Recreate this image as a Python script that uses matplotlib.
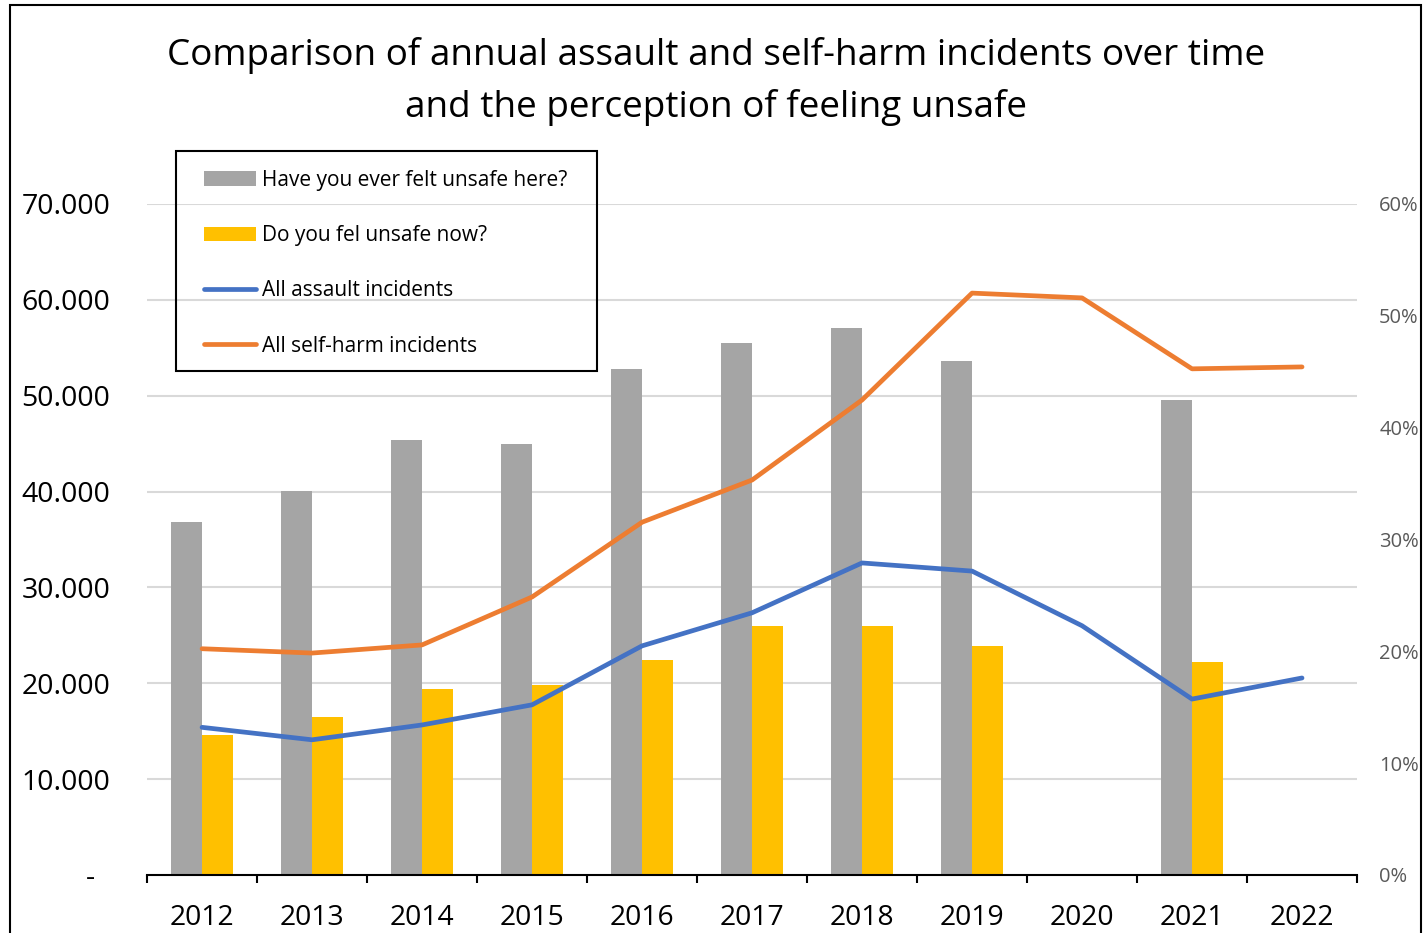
import numpy as np
import matplotlib

matplotlib.use("Agg")
import matplotlib.pyplot as plt
from matplotlib.patches import Rectangle
from matplotlib.ticker import FixedLocator, FuncFormatter, NullFormatter
from matplotlib.transforms import blended_transform_factory

plt.rcParams["font.family"] = ["Open Sans", "DejaVu Sans"]

years = ["2012", "2013", "2014", "2015", "2016", "2017",
         "2018", "2019", "2020", "2021", "2022"]
# survey answers, share of respondents (right axis); no survey in 2020 and 2022
felt_unsafe_ever = [0.316, 0.343, 0.389, 0.385, 0.452, 0.476,
                    0.489, 0.460, np.nan, 0.425, np.nan]
felt_unsafe_now = [0.125, 0.141, 0.166, 0.170, 0.192, 0.223,
                   0.223, 0.205, np.nan, 0.190, np.nan]
# incident counts (left axis)
assault = [15400, 14100, 15650, 17750, 23900, 27350,
           32550, 31700, 26000, 18350, 20550]
self_harm = [23600, 23150, 24000, 29000, 36800, 41200,
             49550, 60700, 60200, 52800, 53000]

count_ticks = [0, 10000, 20000, 30000, 40000, 50000, 60000, 70000]
share_ticks = [0, 0.1, 0.2, 0.3, 0.4, 0.5, 0.6]

GREY, GOLD, BLUE, ORANGE = "#A5A5A5", "#FFC000", "#4472C4", "#ED7D31"

fig = plt.figure(figsize=(14.25, 9.33), dpi=100)
ax_bar = fig.add_axes((0.1032, 0.0622, 0.8491, 0.7192))
ax_line = ax_bar.twinx()

x = np.arange(len(years))
w = 0.285
ax_bar.bar(x - w / 2, felt_unsafe_ever, w, color=GREY, zorder=2,
           label="Have you ever felt unsafe here?")
ax_bar.bar(x + w / 2, felt_unsafe_now, w, color=GOLD, zorder=2,
           label="Do you fel unsafe now?")
ax_line.plot(x, assault, color=BLUE, lw=3.4, solid_capstyle="round",
             label="All assault incidents")
ax_line.plot(x, self_harm, color=ORANGE, lw=3.4, solid_capstyle="round",
             label="All self-harm incidents")

ax_bar.set_xlim(-0.5, len(years) - 0.5)
ax_bar.set_ylim(0, 0.6)
ax_line.set_ylim(0, 70000)

# gridlines follow the count axis but sit behind the bars
grid_tf = blended_transform_factory(ax_bar.transAxes, ax_line.transData)
for v in count_ticks[1:]:
    ax_bar.plot([0, 1], [v, v], transform=grid_tf, color="#D9D9D9",
                lw=1.5, zorder=0)

# share axis on the right, count axis on the left
ax_bar.yaxis.tick_right()
ax_bar.set_yticks(share_ticks)
ax_bar.yaxis.set_major_formatter(FuncFormatter(lambda v, _: f"{v:.0%}"))
ax_bar.tick_params(axis="y", length=0, pad=16, labelsize=14.5,
                   labelcolor="#595959")

ax_line.yaxis.tick_left()
ax_line.set_yticks(count_ticks)
ax_line.yaxis.set_major_formatter(FuncFormatter(
    lambda v, _: "-  " if v == 0 else f"{v:,.0f}".replace(",", ".")))
ax_line.tick_params(axis="y", length=0, pad=26.5, labelsize=20.5)

# Excel-style category axis: ticks between categories, labels centred
ax_bar.xaxis.set_major_locator(FixedLocator(np.arange(len(years) + 1) - 0.5))
ax_bar.xaxis.set_major_formatter(NullFormatter())
ax_bar.xaxis.set_minor_locator(FixedLocator(x))
ax_bar.set_xticklabels(years, minor=True)
ax_bar.tick_params(axis="x", which="major", length=6, width=1.5,
                   direction="out")
ax_bar.tick_params(axis="x", which="minor", length=0, pad=21, labelsize=20.3)

for a in (ax_bar, ax_line):
    for side in ("top", "left", "right", "bottom"):
        a.spines[side].set_visible(False)
ax_bar.spines["bottom"].set_visible(True)
ax_bar.spines["bottom"].set_linewidth(1.5)
ax_bar.spines["bottom"].set_zorder(5)

fig.text(0.5025, 1 - 56 / 933,
         "Comparison of annual assault and self-harm incidents over time",
         ha="center", va="center", fontsize=26.6)
fig.text(0.5025, 1 - 107 / 933, "and the perception of feeling unsafe",
         ha="center", va="center", fontsize=26.6)

handles = ax_bar.get_legend_handles_labels()
lines = ax_line.get_legend_handles_labels()
leg = fig.legend(handles[0] + lines[0], handles[1] + lines[1],
                 loc="upper left", bbox_to_anchor=(204 / 1425, 1 - 170 / 933),
                 fontsize=15, frameon=False, borderpad=0, labelspacing=1.64,
                 handlelength=2.5, handletextpad=0.29, borderaxespad=0)
# legend box drawn separately so the padding can differ per side
fig.patches.append(Rectangle((176 / 1425, 1 - 371 / 933), 421 / 1425,
                             220 / 933, transform=fig.transFigure,
                             fill=False, edgecolor="black", lw=1.5, zorder=6))

fig.patches.append(Rectangle((10 / 1425, -0.02), 1411 / 1425, 1.02 - 5 / 933,
                             transform=fig.transFigure, fill=False,
                             edgecolor="black", lw=1.5))

fig.savefig("out.png", dpi=100)
